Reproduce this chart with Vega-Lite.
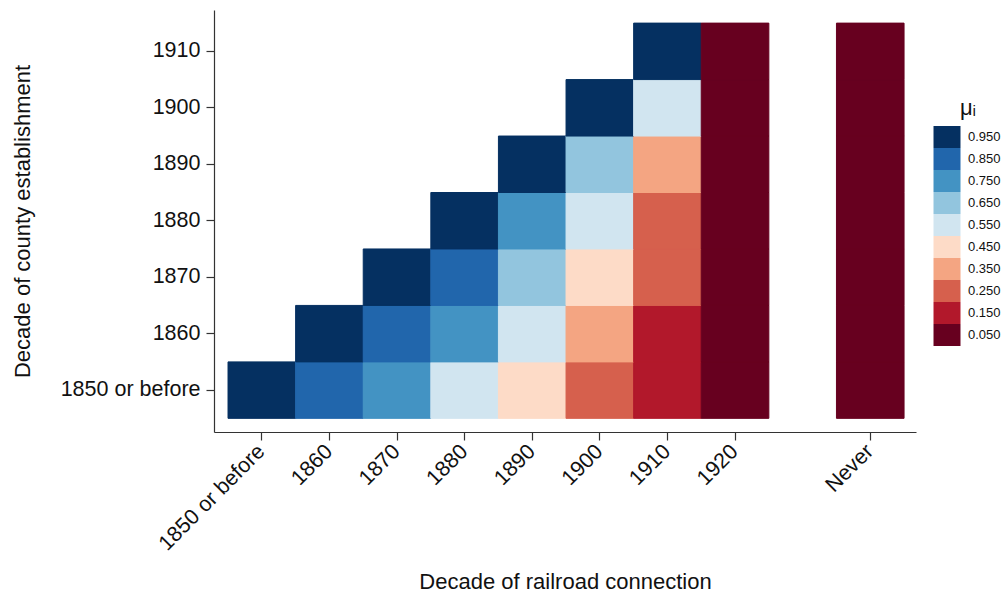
{
  "$schema": "https://vega.github.io/schema/vega-lite/v6.json",
  "width": 702,
  "height": 422,
  "autosize": {"type": "none"},
  "padding": {"left": 214, "top": 10, "right": 92, "bottom": 165},
  "background": "white",
  "config": {
    "font": "Liberation Sans",
    "view": {"stroke": null},
    "axis": {
      "domainColor": "#333333",
      "domainWidth": 1.2,
      "tickColor": "#333333",
      "tickWidth": 1.2,
      "tickSize": 8,
      "labelColor": "#111111",
      "titleColor": "#111111",
      "labelFont": "Liberation Sans",
      "titleFont": "Liberation Sans",
      "labelFontSize": 21.5,
      "titleFontSize": 22,
      "titleFontWeight": "normal",
      "grid": false
    }
  },
  "data": {
    "values": [
      {"est": "1850 or before", "rr": "1850 or before", "mu": "0.950"},
      {"est": "1850 or before", "rr": "1860", "mu": "0.850"},
      {"est": "1850 or before", "rr": "1870", "mu": "0.750"},
      {"est": "1850 or before", "rr": "1880", "mu": "0.550"},
      {"est": "1850 or before", "rr": "1890", "mu": "0.450"},
      {"est": "1850 or before", "rr": "1900", "mu": "0.250"},
      {"est": "1850 or before", "rr": "1910", "mu": "0.150"},
      {"est": "1850 or before", "rr": "1920", "mu": "0.050"},
      {"est": "1850 or before", "rr": "Never", "mu": "0.050"},
      {"est": "1860", "rr": "1860", "mu": "0.950"},
      {"est": "1860", "rr": "1870", "mu": "0.850"},
      {"est": "1860", "rr": "1880", "mu": "0.750"},
      {"est": "1860", "rr": "1890", "mu": "0.550"},
      {"est": "1860", "rr": "1900", "mu": "0.350"},
      {"est": "1860", "rr": "1910", "mu": "0.150"},
      {"est": "1860", "rr": "1920", "mu": "0.050"},
      {"est": "1860", "rr": "Never", "mu": "0.050"},
      {"est": "1870", "rr": "1870", "mu": "0.950"},
      {"est": "1870", "rr": "1880", "mu": "0.850"},
      {"est": "1870", "rr": "1890", "mu": "0.650"},
      {"est": "1870", "rr": "1900", "mu": "0.450"},
      {"est": "1870", "rr": "1910", "mu": "0.250"},
      {"est": "1870", "rr": "1920", "mu": "0.050"},
      {"est": "1870", "rr": "Never", "mu": "0.050"},
      {"est": "1880", "rr": "1880", "mu": "0.950"},
      {"est": "1880", "rr": "1890", "mu": "0.750"},
      {"est": "1880", "rr": "1900", "mu": "0.550"},
      {"est": "1880", "rr": "1910", "mu": "0.250"},
      {"est": "1880", "rr": "1920", "mu": "0.050"},
      {"est": "1880", "rr": "Never", "mu": "0.050"},
      {"est": "1890", "rr": "1890", "mu": "0.950"},
      {"est": "1890", "rr": "1900", "mu": "0.650"},
      {"est": "1890", "rr": "1910", "mu": "0.350"},
      {"est": "1890", "rr": "1920", "mu": "0.050"},
      {"est": "1890", "rr": "Never", "mu": "0.050"},
      {"est": "1900", "rr": "1900", "mu": "0.950"},
      {"est": "1900", "rr": "1910", "mu": "0.550"},
      {"est": "1900", "rr": "1920", "mu": "0.050"},
      {"est": "1900", "rr": "Never", "mu": "0.050"},
      {"est": "1910", "rr": "1910", "mu": "0.950"},
      {"est": "1910", "rr": "1920", "mu": "0.050"},
      {"est": "1910", "rr": "Never", "mu": "0.050"}
    ]
  },
  "mark": {"type": "rect", "strokeWidth": 1},
  "encoding": {
    "x": {
      "field": "rr",
      "type": "nominal",
      "title": "Decade of railroad connection",
      "scale": {
        "domain": ["1850 or before", "1860", "1870", "1880", "1890", "1900", "1910", "1920", " ", "Never"],
        "paddingInner": 0,
        "paddingOuter": 0.192,
        "align": 0.54
      },
      "axis": {
        "values": ["1850 or before", "1860", "1870", "1880", "1890", "1900", "1910", "1920", "Never"],
        "labelAngle": -45,
        "labelAlign": "right",
        "labelBaseline": "middle",
        "labelPadding": 8,
        "titleBaseline": "alphabetic",
        "titleY": 156
      }
    },
    "y": {
      "field": "est",
      "type": "nominal",
      "title": "Decade of county establishment",
      "scale": {
        "domain": ["1910", "1900", "1890", "1880", "1870", "1860", "1850 or before"],
        "paddingInner": 0,
        "paddingOuter": 0.237,
        "align": 0.49
      },
      "axis": {
        "labelPadding": 6,
        "titlePadding": 26
      }
    },
    "stroke": {
      "field": "mu",
      "type": "nominal",
      "legend": null,
      "scale": {
        "domain": ["0.950", "0.850", "0.750", "0.650", "0.550", "0.450", "0.350", "0.250", "0.150", "0.050"],
        "range": ["#053061", "#2166ac", "#4393c3", "#92c5de", "#d1e5f0", "#fddbc7", "#f4a582", "#d6604d", "#b2182b", "#67001f"]
      }
    },
    "fill": {
      "field": "mu",
      "type": "nominal",
      "title": "μᵢ",
      "scale": {
        "domain": ["0.950", "0.850", "0.750", "0.650", "0.550", "0.450", "0.350", "0.250", "0.150", "0.050"],
        "range": ["#053061", "#2166ac", "#4393c3", "#92c5de", "#d1e5f0", "#fddbc7", "#f4a582", "#d6604d", "#b2182b", "#67001f"]
      },
      "legend": {
        "orient": "none",
        "legendX": 722,
        "legendY": 88,
        "symbolType": "M-1.227,-1H1.227V1H-1.227Z",
        "symbolSize": 484,
        "symbolStrokeWidth": 0,
        "symbolOpacity": 1,
        "rowPadding": 0,
        "labelFontSize": 13,
        "labelFont": "Liberation Sans",
        "labelColor": "#111111",
        "labelOffset": 10,
        "titleFontSize": 22,
        "titleFont": "Liberation Sans",
        "titleFontWeight": "normal",
        "titleColor": "#111111",
        "titleAnchor": "middle",
        "titlePadding": 6
      }
    }
  }
}
